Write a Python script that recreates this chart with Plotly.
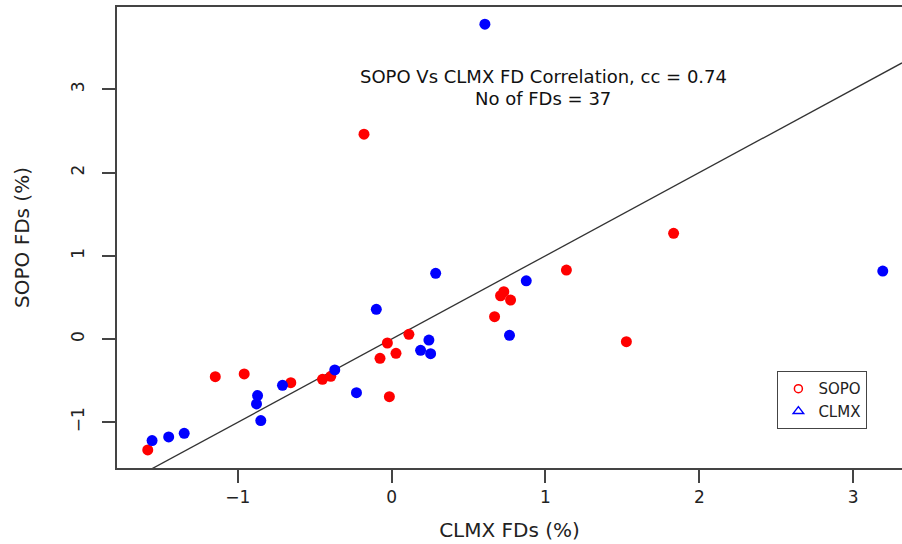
import plotly.graph_objects as go

# SOPO series (red) : CLMX FDs (x) and SOPO FDs (y), in %
sopo_x = [-1.586, -1.147, -0.959, -0.656, -0.450, -0.396, -0.015, -0.076, -0.028,
          0.028, 0.112, 0.729, 0.708, 0.773, 0.669, 1.136, -0.180, 1.833, 1.526]
sopo_y = [-1.333, -0.453, -0.420, -0.525, -0.484, -0.448, -0.693, -0.232, -0.048,
          -0.172, 0.056, 0.568, 0.520, 0.468, 0.268, 0.828, 2.462, 1.270, -0.032]

# CLMX series (blue)
clmx_x = [-1.558, -1.450, -1.349, -0.872, -0.879, -0.851, -0.710, -0.370, -0.100,
          -0.229, 0.188, 0.242, 0.253, 0.286, 0.766, 0.875, 0.606, 3.193]
clmx_y = [-1.221, -1.177, -1.133, -0.680, -0.780, -0.980, -0.556, -0.372, 0.357,
          -0.645, -0.136, -0.012, -0.176, 0.789, 0.044, 0.700, 3.784, 0.817]

x_ticks = [-1, 0, 1, 2, 3]
y_ticks = [-1, 0, 1, 2, 3]
tick_text = ["\u22121", "0", "1", "2", "3"]
x_range = [-1.786, 3.318]
y_range = [-1.55, 3.99]

title_lines = ["SOPO Vs CLMX FD Correlation, cc = 0.74", "No of FDs = 37"]
title_y = [3.15, 2.89]

FONT = "DejaVu Sans, Liberation Sans, Arial, sans-serif"

fig = go.Figure()

# identity line y = x
fig.add_trace(go.Scatter(x=x_range, y=x_range, mode="lines",
                         line=dict(color="#333333", width=1.3),
                         showlegend=False, hoverinfo="skip"))

fig.add_trace(go.Scatter(x=sopo_x, y=sopo_y, mode="markers",
                         marker=dict(color="#ff0000", size=11),
                         showlegend=False, name="SOPO"))
fig.add_trace(go.Scatter(x=clmx_x, y=clmx_y, mode="markers",
                         marker=dict(color="#0000ff", size=11),
                         showlegend=False, name="CLMX"))

# legend-only entries with open symbols
fig.add_trace(go.Scatter(x=[None], y=[None], mode="markers", name="SOPO",
                         marker=dict(symbol="circle-open", color="#ff0000", size=8,
                                     line=dict(width=1.5))))
fig.add_trace(go.Scatter(x=[None], y=[None], mode="markers", name="CLMX",
                         marker=dict(symbol="triangle-up-open", color="#0000ff", size=9,
                                     line=dict(width=1.5))))

for txt, ty in zip(title_lines, title_y):
    fig.add_annotation(x=0.987, y=ty, xref="x", yref="y",
                       text=txt, showarrow=False,
                       font=dict(family=FONT, size=18, color="#111111"), align="center")

fig.update_layout(
    width=902, height=544,
    margin=dict(l=117, r=0, t=7, b=76),
    plot_bgcolor="white", paper_bgcolor="white",
    font=dict(family=FONT, size=17, color="#222222"),
    legend=dict(x=0.841, y=0.21, xanchor="left", yanchor="top",
                bordercolor="#444444", borderwidth=1.2, bgcolor="white",
                font=dict(size=15), itemwidth=30, tracegroupgap=0),
    xaxis=dict(range=x_range, tickvals=x_ticks, ticktext=tick_text,
               showgrid=False, zeroline=False, showline=True, mirror=True,
               linecolor="#444444", linewidth=1.5, ticks="outside", ticklen=13,
               tickcolor="#444444", tickwidth=1.5, automargin=False,
               title=dict(text="CLMX FDs (%)", standoff=17)),
    yaxis=dict(range=y_range, tickvals=y_ticks, ticktext=tick_text,
               tickangle=-90, ticklabelstandoff=11,
               showgrid=False, zeroline=False, showline=True, mirror=False,
               linecolor="#444444", linewidth=1.5, ticks="outside", ticklen=13,
               tickcolor="#444444", tickwidth=1.5, automargin=False,
               title=dict(text="SOPO FDs (%)", standoff=33)),
)

fig.write_html("out.html", config={"displayModeBar": False},
               post_script="document.body.style.margin='0';")
